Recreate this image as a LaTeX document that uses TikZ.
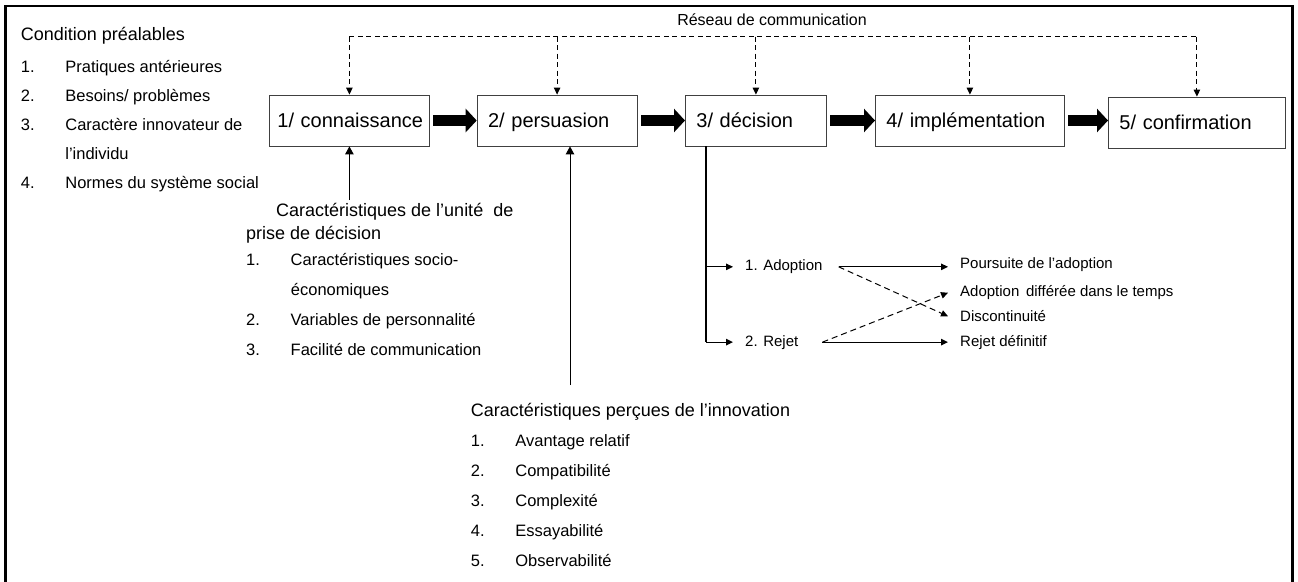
\documentclass[tikz,border=0pt]{standalone}
\usepackage{fontspec}
\setmainfont{Liberation Sans}
\usetikzlibrary{arrows.meta, positioning, calc}

\newcommand{\lnum}[1]{\makebox[44.5pt][l]{#1}}

\begin{document}
\begin{tikzpicture}[
  x=1pt, y=-1pt,
  stage/.style={draw=black!75, line width=0.8pt, anchor=west, align=left,
                minimum height=51pt, inner xsep=11pt, text height=14.5pt,
                text depth=0pt, font=\fontsize{20}{24}\selectfont},
  head/.style={anchor=base west, inner sep=0pt, font=\fontsize{18}{21}\selectfont},
  itm/.style={anchor=base west, inner sep=0pt, font=\fontsize{16.5}{20}\selectfont},
  outc/.style={anchor=base west, inner sep=0pt, inner xsep=12pt,
               font=\fontsize{15}{18}\selectfont},
  bigarr/.style={line width=11pt, shorten <=3.5pt,
                 -{Triangle[length=11pt 0 0, width=23pt 0 0]}},
  tip/.style={-{Triangle[length=7pt 0 0, width=6.5pt 0 0]}},
  net/.style={line width=0.9pt, dash pattern=on 5pt off 3.5pt},
  uparr/.style={line width=1pt, -{Triangle[length=8pt 0 0, width=8.5pt 0 0]}},
  branch/.style={line width=1.2pt},
  dsh/.style={line width=1pt, dash pattern=on 6pt off 4pt},
]
\useasboundingbox (0,0) rectangle (1298,581);

% --- outer frame (open at the bottom) ---
\draw[line width=2.5pt] (5.5,620) -- (5.5,6) -- (1292.5,6) -- (1292.5,620);

% --- the five stages ---
\node[stage, inner xsep=8pt, text width=144pt] (b1) at (269,120.5) {\mbox{1/ connaissance}};
\node[stage, text width=138pt] (b2) at (476.7,120.5) {2/ persuasion};
\node[stage, text width=119pt] (b3) at (685,120.5) {3/ décision};
\node[stage, text width=167pt] (b4) at (875,120.5) {4/ implémentation};
\node[stage, text width=155pt] (b5) at (1108,122.5) {5/ confirmation};

% --- flow arrows ---
\draw[bigarr] (b1.east) -- (b2.west);
\draw[bigarr] (b2.east) -- (b3.west);
\draw[bigarr] (b3.east) -- (b4.west);
\draw[bigarr] (b4.east) -- (b4.east -| b5.west);

% --- communication network ---
\node[font=\fontsize{16}{19}\selectfont, inner sep=0pt] (reseau) at (772,20)
  {Réseau de communication};
\coordinate (nettop) at (0,36.7);
\draw[net] (b1.north |- nettop) -- (b5.north |- nettop);
\foreach \b in {b1,b2,b3,b4,b5}
  \draw[net, tip] (\b.north |- nettop) -- (\b.north);

% --- prior conditions ---
\node[head] (cond) at (20.7,40.7) {Condition préalables};
\node[itm] (cond1) at (20.7,72.7) {\lnum{1.}Pratiques antérieures};
\node[itm] (cond2) at (20.7,101.7) {\lnum{2.}Besoins/ problèmes};
\node[itm] (cond3) at (20.7,130.7) {\lnum{3.}Caractère innovateur de};
\node[itm] (cond3b) at (65.2,159.3) {l’individu};
\node[itm] (cond4) at (20.7,188.3) {\lnum{4.}Normes du système social};

% --- decision-making unit ---
\node[head] (unite1) at (276,216.7) {Caractéristiques de l’unité \ de};
\node[head] (unite2) at (246,239) {prise de décision};
\node[itm] (unite3) at (246,265) {\lnum{1.}Caractéristiques socio-};
\node[itm] (unite3b) at (290.7,295) {économiques};
\node[itm] (unite4) at (246,325) {\lnum{2.}Variables de personnalité};
\node[itm] (unite5) at (246,355) {\lnum{3.}Facilité de communication};
\draw[uparr, shorten <=3pt] (b1.south |- unite1.north) -- (b1.south);

% --- perceived characteristics ---
\node[head] (perc) at (470.7,416) {Caractéristiques perçues de l’innovation};
\node[itm] (perc1) at (470.7,446.7) {\lnum{1.}Avantage relatif};
\node[itm] (perc2) at (470.7,476.7) {\lnum{2.}Compatibilité};
\node[itm] (perc3) at (470.7,506.7) {\lnum{3.}Complexité};
\node[itm] (perc4) at (470.7,536.7) {\lnum{4.}Essayabilité};
\node[itm] (perc5) at (470.7,566) {\lnum{5.}Observabilité};
\coordinate (pin) at (570,385);
\draw[uparr] (pin) -- (pin |- b2.south);

% --- decision outcomes ---
\node[outc] (adop) at (733,270.7) {1. Adoption};
\node[outc] (rej) at (733,346) {2. Rejet};
\node[outc] (pours) at (948,268.3) {Poursuite de l’adoption};
\node[outc] (diff) at (948,296.7) {Adoption \,différée dans le temps};
\node[outc] (disc) at (948,321.7) {Discontinuité};
\node[outc] (defin) at (948,346) {Rejet définitif};

\coordinate (split) at (706,0);
\draw[line width=2pt] (b3.south -| split) -- (split |- rej.west);
\draw[branch, tip] (split |- adop.west) -- (adop.west);
\draw[branch, tip] (split |- rej.west) -- (rej.west);

\draw[branch, tip] ([xshift=4pt]adop.east) -- (adop.east -| pours.west);
\draw[dsh, tip] ([xshift=4pt]adop.east) -- (disc.west);
\draw[dsh, tip] ([xshift=12pt]rej.east) -- (diff.west);
\draw[branch, tip] ([xshift=12pt]rej.east) -- (rej.east -| defin.west);

\end{tikzpicture}
\end{document}
